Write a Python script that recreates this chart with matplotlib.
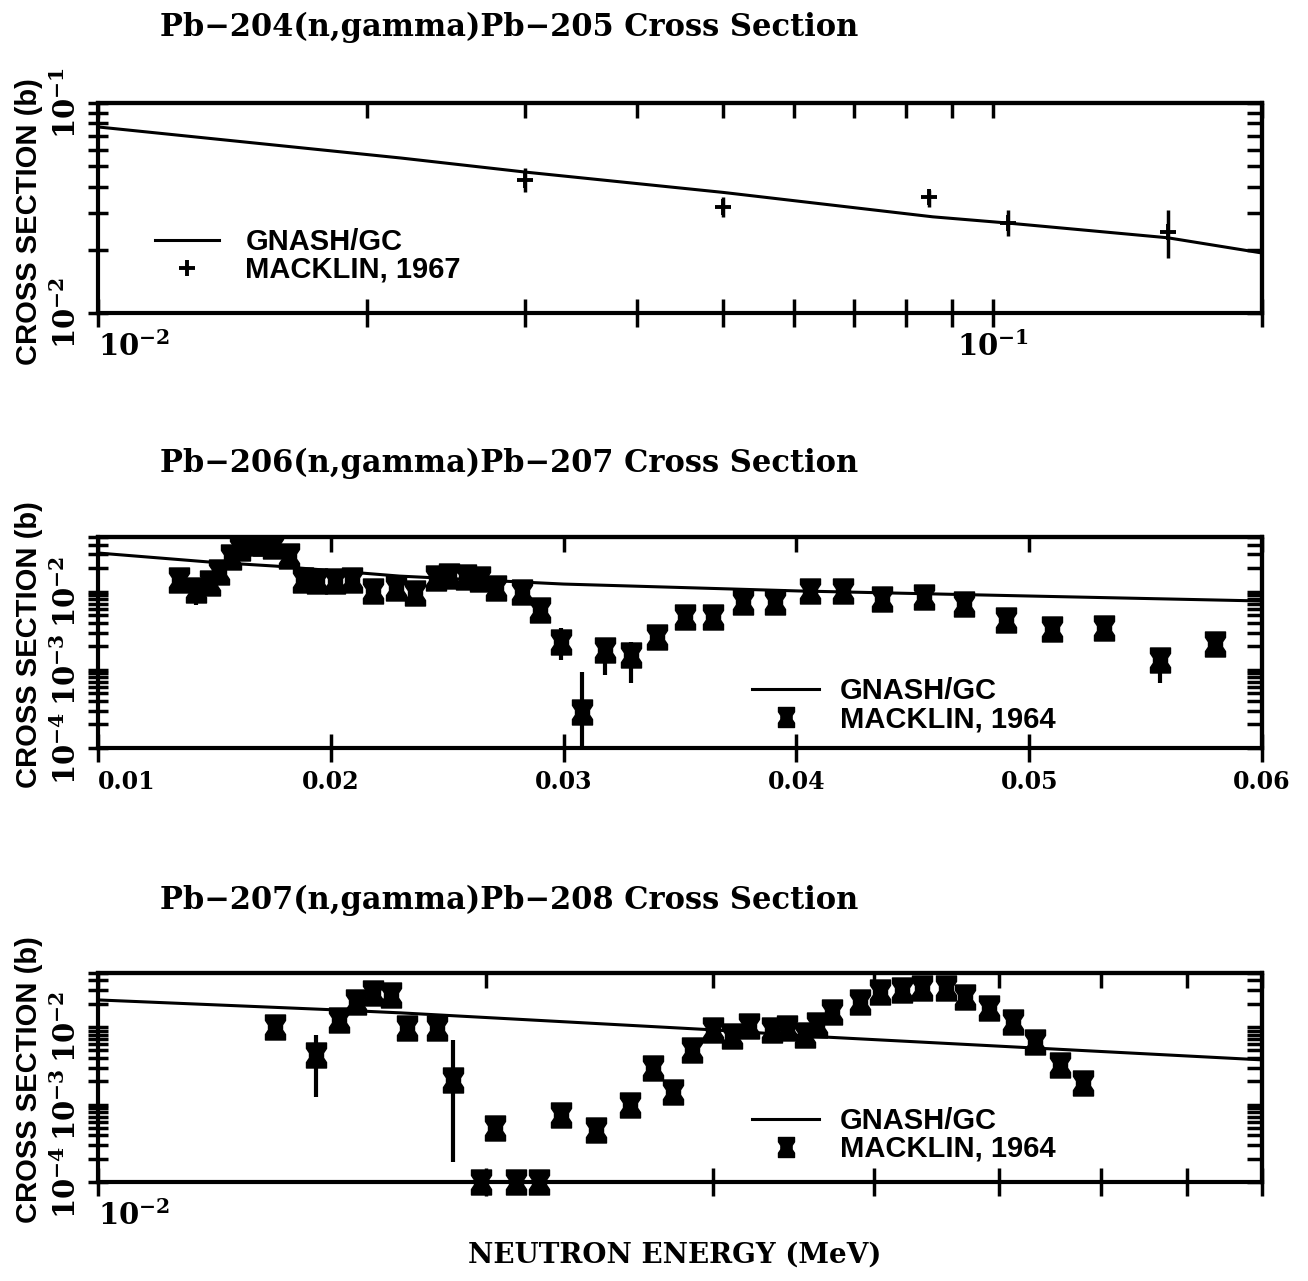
import matplotlib
matplotlib.use('Agg')
import matplotlib.pyplot as plt
from matplotlib.path import Path
from matplotlib.ticker import NullFormatter

#%% data
# Pb-204(n,gamma)
e204_calc = [0.01, 0.0218, 0.03, 0.05, 0.0609, 0.0857, 0.104, 0.157, 0.2]
xs204_calc = [0.0769, 0.0547, 0.0469, 0.0375, 0.0340, 0.0287, 0.0268, 0.0228, 0.0193]
e204_exp = [0.03, 0.05, 0.085, 0.104, 0.157]
xs204_exp = [0.0430, 0.0320, 0.0357, 0.0268, 0.0243]
xs204_lo = [0.0377, 0.0285, 0.0320, 0.0232, 0.0183]
xs204_hi = [0.0490, 0.0355, 0.0385, 0.0309, 0.0309]

# Pb-206(n,gamma)
e206_calc = [0.01, 0.0148, 0.01764, 0.02296, 0.03, 0.0401, 0.05, 0.06]
xs206_calc = [0.0312, 0.0239, 0.0212, 0.0158, 0.0125, 0.0102, 0.00879, 0.00759]
e206 = [0.0135, 0.0142, 0.0148, 0.0152, 0.0157, 0.0161, 0.0166, 0.0171, 0.0175, 0.0182,
        0.0188, 0.0194, 0.0202, 0.0209, 0.0218, 0.0228, 0.0236, 0.0245, 0.0251, 0.0258,
        0.0264, 0.0271, 0.0282, 0.0290, 0.0299, 0.0308, 0.0318, 0.0329, 0.0340, 0.0352,
        0.0364, 0.0377, 0.0391, 0.0406, 0.0420, 0.0437, 0.0455, 0.0472, 0.0490, 0.0510,
        0.0532, 0.0556, 0.0580]
xs206 = [0.0141, 0.0105, 0.0129, 0.0178, 0.0277, 0.0362, 0.0418, 0.0418, 0.0383, 0.0285,
         0.0141, 0.0137, 0.0137, 0.0141, 0.0102, 0.0111, 0.0096, 0.0149, 0.0158, 0.0154,
         0.0145, 0.0111, 0.0099, 0.00582, 0.00227, 0.000288, 0.00179, 0.00155, 0.00262, 0.00473,
         0.00473, 0.00736, 0.00736, 0.0102, 0.0102, 0.00803, 0.00853, 0.00693, 0.00434, 0.00333,
         0.00343, 0.00133, 0.00214]
bar206_e = [0.0142, 0.0299, 0.0308, 0.0318, 0.0329, 0.0556]
bar206_lo = [0.00675, 0.00133, 0.00005, 0.00086, 0.000678, 0.000678]
bar206_hi = [0.0141, 0.00343, 0.000938, 0.00255, 0.00230, 0.0019]

# Pb-207(n,gamma)
e207_calc = [0.01, 0.01523, 0.01718, 0.03, 0.0365, 0.0531, 0.08]
xs207_calc = [0.0224, 0.0167, 0.01524, 0.0092, 0.00746, 0.00538, 0.00377]
e207 = [0.01373, 0.01475, 0.01538, 0.01585, 0.01634, 0.01687, 0.01737, 0.01833, 0.01886, 0.01983,
        0.02033, 0.02112, 0.02199, 0.02288, 0.02436, 0.02585, 0.02694, 0.02793, 0.02890, 0.0300,
        0.03104, 0.03199, 0.03334, 0.03424, 0.03537, 0.03614, 0.03712, 0.03903, 0.04046, 0.04208,
        0.04362, 0.04552, 0.0471, 0.04909, 0.05125, 0.0533, 0.05575, 0.0581]
xs207 = [0.01007, 0.00438, 0.01239, 0.0212, 0.0277, 0.0261, 0.00977, 0.00977, 0.00208, 0.0001,
         0.000499, 0.0001, 0.0001, 0.000735, 0.00047, 0.00099, 0.00297, 0.00146, 0.00507, 0.0092,
         0.00769, 0.01038, 0.0092, 0.00977, 0.00792, 0.01067, 0.0157, 0.0212, 0.0285, 0.0303,
         0.0321, 0.0321, 0.0245, 0.0177, 0.01167, 0.00644, 0.00325, 0.0019]
bar207_e = [0.01475, 0.01886, 0.01983]
bar207_lo = [0.00125, 0.000181, 0.0001]
bar207_hi = [0.00792, 0.00684, 0.000143]

titles = ['Pb\u2212204(n,gamma)Pb\u2212205 Cross Section',
          'Pb\u2212206(n,gamma)Pb\u2212207 Cross Section',
          'Pb\u2212207(n,gamma)Pb\u2212208 Cross Section']
labels_calc = 'GNASH/GC'
labels_exp = ['MACKLIN, 1967', 'MACKLIN, 1964', 'MACKLIN, 1964']

ytick_vals1 = [0.01, 0.1]
ytick_lab1 = ['$10^{-2}$', '$10^{-1}$']
ytick_vals23 = [1e-4, 1e-3, 1e-2]
ytick_lab23 = ['$10^{-4}$', '$10^{-3}$', '$10^{-2}$']
xtick_vals2 = [0.01, 0.02, 0.03, 0.04, 0.05, 0.06]
xtick_lab2 = ['0.01', '0.02', '0.03', '0.04', '0.05', '0.06']

#%% plot parameters
plt.rcdefaults()
params = {
    'font.family': 'DejaVu Serif',
    'font.weight': 'bold',
    'mathtext.fontset': 'custom',
    'mathtext.rm': 'DejaVu Serif:bold',
    'mathtext.it': 'DejaVu Serif:bold',
    'mathtext.bf': 'DejaVu Serif:bold',
    'axes.linewidth': 3,
    'xtick.major.width': 2.5,
    'xtick.minor.width': 2.5,
    'ytick.major.width': 2.5,
    'ytick.minor.width': 2.5,
}
plt.rcParams.update(params)

# hourglass-like marker used for the Macklin 1964 points
hg_verts = [(-0.4, 0.5), (0.4, 0.5), (0.4, 0.28), (0.28, 0.1), (0.28, -0.1), (0.4, -0.28),
            (0.4, -0.5), (-0.4, -0.5), (-0.4, -0.28), (-0.28, -0.1), (-0.28, 0.1), (-0.4, 0.28),
            (-0.4, 0.5)]
hourglass = Path(hg_verts, closed=True)
leg_font = dict(family='Liberation Sans', weight='bold', size=21)

fig = plt.figure(figsize=(13.08, 12.81), dpi=100)
ax1 = fig.add_axes([0.0749, 0.7557, 0.8899, 0.1639])
ax2 = fig.add_axes([0.0749, 0.4161, 0.8899, 0.1647])
ax3 = fig.add_axes([0.0749, 0.0773, 0.8899, 0.1632])


def frame(ax):
    ax.tick_params(axis='x', which='both', direction='inout', length=20, pad=3)
    ax.tick_params(axis='y', which='both', direction='inout', length=15, pad=4)
    top = ax.secondary_xaxis('top')
    top.tick_params(which='both', direction='in', length=11, width=2.5, labeltop=False)
    top.xaxis.set_minor_formatter(NullFormatter())
    right = ax.secondary_yaxis('right')
    right.tick_params(which='both', direction='in', length=11, width=2.5, labelright=False)
    right.yaxis.set_minor_formatter(NullFormatter())
    return top, right


#%% panel 1
ax1.set_xscale('log')
ax1.set_yscale('log')
l1, = ax1.plot(e204_calc, xs204_calc, '-', color='black', lw=2.2)
eb1 = ax1.errorbar(e204_exp, xs204_exp,
                   yerr=[[v - lo for v, lo in zip(xs204_exp, xs204_lo)],
                         [hi - v for v, hi in zip(xs204_exp, xs204_hi)]],
                   fmt='+', color='black', ms=11, mew=2.8, elinewidth=2.5, capsize=0)
ax1.set_xlim(0.01, 0.2)
ax1.set_ylim(0.01, 0.1)
ax1.set_xticks([0.01, 0.1], ['$10^{-2}$', '$10^{-1}$'], fontsize=21)
ax1.get_xticklabels()[0].set_ha('left')
ax1.set_yticks(ytick_vals1, ytick_lab1, fontsize=21, rotation=90, va='center')
ax1.xaxis.set_minor_formatter(NullFormatter())
ax1.yaxis.set_minor_formatter(NullFormatter())
frame(ax1)
ax1.legend([l1, eb1[0]], [labels_calc, labels_exp[0]], loc='upper left',
           bbox_to_anchor=(0.049, 0.405), frameon=False, borderpad=0, borderaxespad=0,
           handlelength=2.2, handletextpad=0.9, labelspacing=0.0, numpoints=1,
           prop=leg_font)

#%% panel 2
ax2.set_yscale('log')
l2, = ax2.plot(e206_calc, xs206_calc, '-', color='black', lw=2.2)
ax2.vlines(bar206_e, bar206_lo, bar206_hi, color='black', lw=3)
p2, = ax2.plot(e206, xs206, linestyle='none', marker=hourglass, ms=18, color='black')
ax2.set_xlim(0.01, 0.06)
ax2.set_ylim(1e-4, 0.05)
ax2.set_xticks(xtick_vals2, xtick_lab2, fontsize=17)
ax2.get_xticklabels()[0].set_ha('left')
ax2.set_yticks(ytick_vals23, ytick_lab23, fontsize=21, rotation=90, va='center')
ax2.yaxis.set_minor_formatter(NullFormatter())
top2, _ = frame(ax2)
top2.set_xticks(xtick_vals2)
ax2.tick_params(axis='x', pad=6)
ax2.legend([l2, p2], [labels_calc, labels_exp[1]], loc='upper left',
           bbox_to_anchor=(0.562, 0.335), frameon=False, borderpad=0, borderaxespad=0,
           handlelength=2.3, handletextpad=0.7, labelspacing=0.0, numpoints=1,
           markerscale=0.8, prop=leg_font)

#%% panel 3
ax3.set_xscale('log')
ax3.set_yscale('log')
l3, = ax3.plot(e207_calc, xs207_calc, '-', color='black', lw=2.2)
ax3.vlines(bar207_e, bar207_lo, bar207_hi, color='black', lw=3)
p3, = ax3.plot(e207, xs207, linestyle='none', marker=hourglass, ms=18, color='black',
               clip_on=False, zorder=3)
ax3.set_xlim(0.01, 0.08)
ax3.set_ylim(1e-4, 0.05)
ax3.set_xticks([0.01], ['$10^{-2}$'], fontsize=21)
ax3.get_xticklabels()[0].set_ha('left')
ax3.xaxis.set_minor_formatter(NullFormatter())
ax3.set_yticks(ytick_vals23, ytick_lab23, fontsize=21, rotation=90, va='center')
ax3.yaxis.set_minor_formatter(NullFormatter())
frame(ax3)
ax3.legend([l3, p3], [labels_calc, labels_exp[2]], loc='upper left',
           bbox_to_anchor=(0.562, 0.36), frameon=False, borderpad=0, borderaxespad=0,
           handlelength=2.3, handletextpad=0.7, labelspacing=0.0, numpoints=1,
           markerscale=0.8, prop=leg_font)

#%% titles and axis labels
for ty, t in zip([0.979, 0.6386, 0.2974], titles):
    fig.text(0.1223, ty, t, fontsize=22, weight='bold', va='center', ha='left')
for yy in [0.8267, 0.4965, 0.1569]:
    fig.text(0.022, yy, 'CROSS SECTION (b)', rotation=90, ha='center', va='center',
             family='Liberation Sans', weight='bold', size=21)
fig.text(0.516, 0.0203, 'NEUTRON ENERGY (MeV)', fontsize=20, weight='bold',
         ha='center', va='center')

fig.savefig('out.png', dpi=100)
